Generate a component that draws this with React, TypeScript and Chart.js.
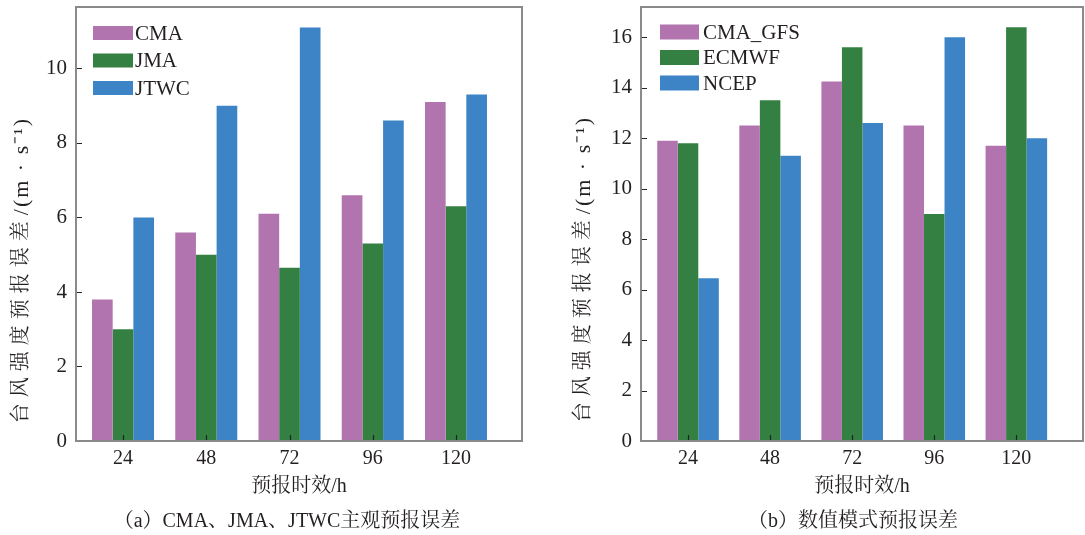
import React, { useEffect, useRef } from 'react';
import { Chart, registerables } from 'chart.js';

Chart.register(...registerables);

// ---------- data ----------
const hours = ['24', '48', '72', '96', '120'];
const positions = [1, 2, 3, 4, 5];

const seriesNamesA = ['CMA', 'JMA', 'JTWC'];
const cmaA = [3.8, 5.6, 6.1, 6.6, 9.1];
const jmaA = [3.0, 5.0, 4.65, 5.3, 6.3];
const jtwcA = [6.0, 9.0, 11.1, 8.6, 9.3];

const seriesNamesB = ['CMA_GFS', 'ECMWF', 'NCEP'];
const cmaGfsB = [11.9, 12.5, 14.25, 12.5, 11.7];
const ecmwfB = [11.8, 13.5, 15.6, 9.0, 16.4];
const ncepB = [6.45, 11.3, 12.6, 16.0, 12.0];

const yTicksA = [0, 2, 4, 6, 8, 10];
const yTicksB = [0, 2, 4, 6, 8, 10, 12, 14, 16];

const Y_TITLE_CJK = '台风强度预报误差';
const Y_TITLE_UNIT = '/(m · s⁻¹)';
const X_TITLE = '预报时效/h';
const CAPTION_A = '（a）CMA、JMA、JTWC主观预报误差';
const CAPTION_B = '（b）数值模式预报误差';

// ---------- style ----------
const COLORS = ['#b274ae', '#348042', '#3d84c6'];
const FONT = "'Liberation Serif', 'Noto Serif CJK SC', 'Noto Sans CJK SC', serif";
const TEXT = '#231f20';
const FRAME = '#8a8a8a';

Chart.defaults.font.family = FONT;
Chart.defaults.color = TEXT;

type Spec = {
  names: string[];
  series: number[][];
  yTicks: number[];
  yMax: number;
  xMin: number;
  xMax: number;
  yAxisWidth: number;
  padRight: number;
  catPct: number;
  legend: { boxX: number; boxW: number; boxH: number; textX: number; firstY: number; gap: number; size: number };
  yTitle: { x: number; y: number };
};

const decorPlugin = {
  id: 'decor',
  afterDatasetsDraw(chart: any, _args: any, opts: any) {
    const spec: Spec = opts.spec;
    const { ctx, chartArea } = chart;
    const { left, right, top, bottom } = chartArea;
    const xs = chart.scales.x;
    const ys = chart.scales.y;
    ctx.save();
    // inward tick marks
    ctx.strokeStyle = '#222';
    ctx.lineWidth = 1.2;
    ctx.beginPath();
    spec.yTicks.forEach((v) => {
      const py = Math.round(ys.getPixelForValue(v)) + 0.5;
      ctx.moveTo(left, py);
      ctx.lineTo(left + 6, py);
    });
    positions.forEach((p) => {
      const px = Math.round(xs.getPixelForValue(p)) + 0.5;
      ctx.moveTo(px, bottom);
      ctx.lineTo(px, bottom - 6);
    });
    ctx.stroke();
    // frame
    ctx.strokeStyle = FRAME;
    ctx.lineWidth = 2;
    ctx.strokeRect(left, top, right - left, bottom - top);
    // legend
    const lg = spec.legend;
    ctx.font = `${lg.size}px ${FONT}`;
    ctx.textBaseline = 'middle';
    ctx.textAlign = 'left';
    chart.data.datasets.forEach((ds: any, i: number) => {
      const cy = top + lg.firstY + i * lg.gap;
      ctx.fillStyle = ds.backgroundColor;
      ctx.fillRect(left + lg.boxX, cy - lg.boxH / 2, lg.boxW, lg.boxH);
      ctx.fillStyle = TEXT;
      ctx.fillText(ds.label, left + lg.textX, cy + 1);
    });
    // rotated y-axis title (CJK part letter-spaced, unit part separately)
    ctx.translate(spec.yTitle.x, spec.yTitle.y);
    ctx.rotate(-Math.PI / 2);
    ctx.textAlign = 'left';
    ctx.textBaseline = 'middle';
    ctx.fillStyle = TEXT;
    const c: any = ctx;
    ctx.font = `20px ${FONT}`;
    c.letterSpacing = '6px';
    const w1 = ctx.measureText(Y_TITLE_CJK).width;
    ctx.font = `22px ${FONT}`;
    c.letterSpacing = '2px';
    const w2 = ctx.measureText(Y_TITLE_UNIT).width;
    const start = -(w1 + w2) / 2;
    ctx.font = `20px ${FONT}`;
    c.letterSpacing = '6px';
    ctx.fillText(Y_TITLE_CJK, start, 0);
    ctx.font = `22px ${FONT}`;
    c.letterSpacing = '2px';
    ctx.fillText(Y_TITLE_UNIT, start + w1, 0);
    c.letterSpacing = '0px';
    ctx.restore();
  },
};

function makeConfig(spec: Spec): any {
  return {
    type: 'bar',
    data: {
      datasets: spec.names.map((name, i) => ({
        label: name,
        data: positions.map((x, j) => ({ x, y: spec.series[i][j] })),
        backgroundColor: COLORS[i],
        borderWidth: 0,
        categoryPercentage: spec.catPct,
        barPercentage: 1,
      })),
    },
    options: {
      animation: false,
      responsive: true,
      maintainAspectRatio: false,
      layout: { padding: { top: 7, right: spec.padRight, bottom: 0, left: 0 } },
      plugins: {
        legend: { display: false },
        tooltip: { enabled: false },
        decor: { spec },
      },
      scales: {
        x: {
          type: 'linear',
          min: spec.xMin,
          max: spec.xMax,
          offset: false,
          grid: { display: false, drawTicks: false },
          border: { display: false },
          afterBuildTicks: (s: any) => {
            s.ticks = positions.map((value) => ({ value }));
          },
          ticks: {
            padding: 6,
            font: { size: 20 },
            color: TEXT,
            callback: (v: number) => hours[Math.round(v) - 1],
          },
          title: {
            display: true,
            text: X_TITLE,
            font: { size: 20 },
            color: TEXT,
            padding: { top: 0, bottom: 36 },
          },
          afterFit: (s: any) => {
            s.height = 94;
            s.paddingLeft = 0;
            s.paddingRight = 0;
          },
        },
        y: {
          min: 0,
          max: spec.yMax,
          grid: { display: false, drawTicks: false },
          border: { display: false },
          afterBuildTicks: (s: any) => {
            s.ticks = spec.yTicks.map((value) => ({ value }));
          },
          ticks: { padding: 9, font: { size: 21 }, color: TEXT },
          afterFit: (s: any) => {
            s.width = spec.yAxisWidth;
            s.paddingTop = 0;
            s.paddingBottom = 0;
          },
        },
      },
    },
    plugins: [decorPlugin],
  };
}

const specA: Spec = {
  names: seriesNamesA,
  series: [cmaA, jmaA, jtwcA],
  yTicks: yTicksA,
  yMax: 11.65,
  xMin: 0.435,
  xMax: 5.793,
  yAxisWidth: 76,
  padRight: 18,
  catPct: 0.745,
  legend: { boxX: 17, boxW: 40, boxH: 14, textX: 59, firstY: 26, gap: 27.5, size: 21 },
  yTitle: { x: 22, y: 270 },
};

const specB: Spec = {
  names: seriesNamesB,
  series: [cmaGfsB, ecmwfB, ncepB],
  yTicks: yTicksB,
  yMax: 17.2,
  xMin: 0.427,
  xMax: 5.812,
  yAxisWidth: 81,
  padRight: 2,
  catPct: 0.75,
  legend: { boxX: 19, boxW: 39, boxH: 15, textX: 62, firstY: 25, gap: 25.5, size: 21 },
  yTitle: { x: 24, y: 269 },
};

function BarPanel({ spec, left, width }: { spec: Spec; left: number; width: number }) {
  const ref = useRef<HTMLCanvasElement | null>(null);
  useEffect(() => {
    if (!ref.current) return;
    const chart = new Chart(ref.current, makeConfig(spec));
    return () => chart.destroy();
  }, [spec]);
  return (
    <div style={{ position: 'absolute', left, top: 0, width, height: 535 }}>
      <canvas ref={ref} />
    </div>
  );
}

function Caption({ text, cx }: { text: string; cx: number }) {
  return (
    <div
      style={{
        position: 'absolute',
        left: cx - 250,
        top: 508,
        width: 500,
        textAlign: 'center',
        fontFamily: FONT,
        fontSize: 20,
        lineHeight: '24px',
        color: TEXT,
        whiteSpace: 'nowrap',
      }}
    >
      {text}
    </div>
  );
}

export default function App() {
  return (
    <div style={{ position: 'absolute', left: 0, top: 0, width: 1085, height: 535, background: '#fff', overflow: 'hidden' }}>
      <BarPanel spec={specA} left={0} width={540} />
      <BarPanel spec={specB} left={560} width={525} />
      <Caption text={CAPTION_A} cx={287} />
      <Caption text={CAPTION_B} cx={853} />
    </div>
  );
}
